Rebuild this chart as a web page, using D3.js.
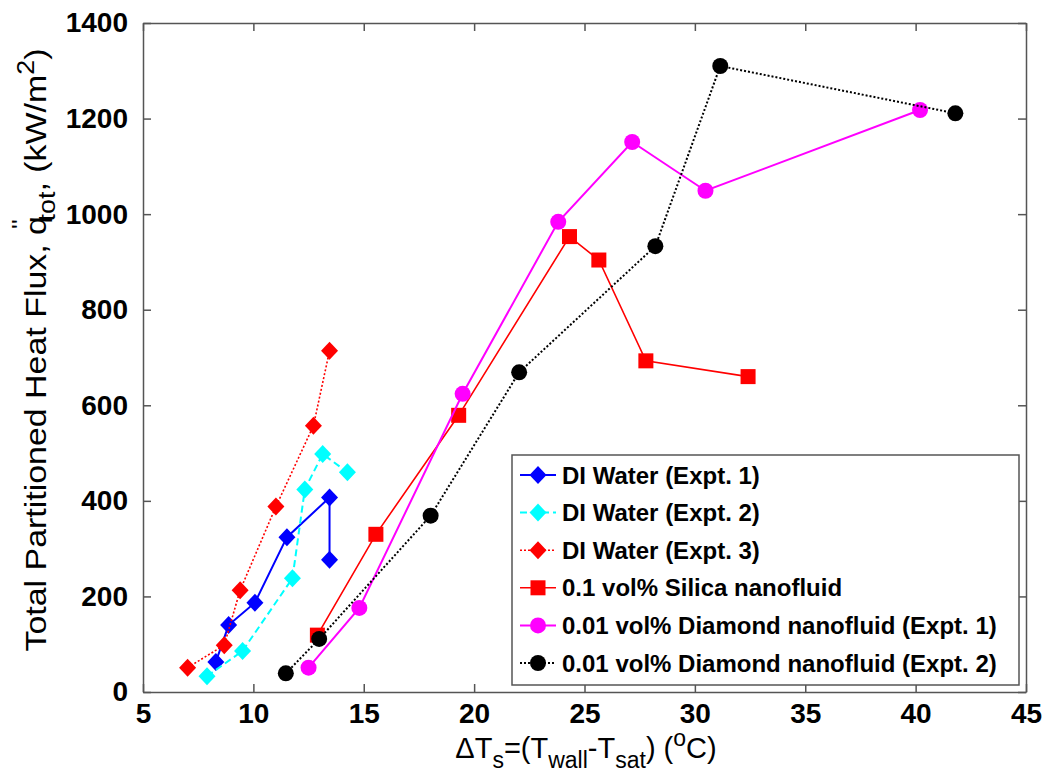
<!DOCTYPE html>
<html>
<meta charset="utf-8">
<style>
  body { margin: 0; padding: 0; background: #fff; }
  svg { display: block; }
  .tick text { font-family: "Liberation Sans", Arial, sans-serif; font-weight: bold; font-size: 28px; fill: #000; }
  .axis path, .axis line { stroke: #555; stroke-width: 1.5px; }
  .title { font-family: "Liberation Sans", Arial, sans-serif; font-size: 29px; fill: #000; }
  .legend text { font-family: "Liberation Sans", Arial, sans-serif; font-weight: bold; font-size: 24px; fill: #000; }
</style>
<body>
<svg id="chart" width="1044" height="778"></svg>
<script src="https://cdn.jsdelivr.net/npm/d3@7"></script>
<script>
// series data (dT in C, q in kW/m2)
var diWater1X = [8.30, 8.88, 10.07, 11.52, 13.45, 13.45];
var diWater1Y = [63, 140, 187, 324, 407, 277];
var diWater2X = [7.90, 9.51, 11.77, 12.33, 13.14, 14.26];
var diWater2Y = [33, 86, 238, 424, 498, 460];
var diWater3X = [7.02, 8.68, 9.40, 11.02, 12.72, 13.45];
var diWater3Y = [51, 98, 213, 388, 557, 714];
var silicaX = [12.90, 15.55, 19.30, 24.32, 25.65, 27.78, 32.41];
var silicaY = [119, 330, 579, 953, 904, 693, 660];
var diamond1X = [12.50, 14.80, 19.48, 23.81, 27.16, 30.48, 40.20];
var diamond1Y = [51, 176, 624, 984, 1151, 1049, 1218];
var diamond2X = [11.47, 12.98, 18.03, 22.04, 28.21, 31.15, 41.80];
var diamond2Y = [39, 111, 369, 669, 933, 1310, 1211];

var seriesNames = ["DI Water (Expt. 1)", "DI Water (Expt. 2)", "DI Water (Expt. 3)",
  "0.1 vol% Silica nanofluid", "0.01 vol% Diamond nanofluid (Expt. 1)", "0.01 vol% Diamond nanofluid (Expt. 2)"];
var xTicks = [5, 10, 15, 20, 25, 30, 35, 40, 45];
var yTicks = [0, 200, 400, 600, 800, 1000, 1200, 1400];

function pts(xs, ys) { return xs.map(function(x, i) { return {x: x, y: ys[i]}; }); }

var series = [
  {name: seriesNames[0], values: pts(diWater1X, diWater1Y), color: "#0000ff", dash: null, width: 2, marker: "diamond"},
  {name: seriesNames[1], values: pts(diWater2X, diWater2Y), color: "#00ffff", dash: "7,4", width: 2, marker: "diamond"},
  {name: seriesNames[2], values: pts(diWater3X, diWater3Y), color: "#ff0000", dash: "2,2", width: 1.6, marker: "diamond"},
  {name: seriesNames[3], values: pts(silicaX, silicaY), color: "#ff0000", dash: null, width: 1.6, marker: "square"},
  {name: seriesNames[4], values: pts(diamond1X, diamond1Y), color: "#ff00ff", dash: null, width: 2, marker: "circle"},
  {name: seriesNames[5], values: pts(diamond2X, diamond2Y), color: "#000000", dash: "2,2", width: 2, marker: "circle"}
];

var svg = d3.select("#chart"),
    margin = {top: 23, right: 18, bottom: 86, left: 143},
    width = 1044 - margin.left - margin.right,
    height = 778 - margin.top - margin.bottom,
    g = svg.append("g").attr("transform", "translate(" + margin.left + "," + margin.top + ")");

var x = d3.scaleLinear().domain([5, 45]).range([0, width]);
var y = d3.scaleLinear().domain([0, 1400]).range([height, 0]);

// axes, ticks pointing inward on all four sides
g.append("g").attr("class", "axis").attr("transform", "translate(0," + height + ")")
  .call(d3.axisBottom(x).tickValues(xTicks).tickSizeInner(-8).tickSizeOuter(0).tickPadding(11));
g.append("g").attr("class", "axis")
  .call(d3.axisTop(x).tickValues(xTicks).tickSizeInner(-8).tickSizeOuter(0).tickFormat(""));
g.append("g").attr("class", "axis")
  .call(d3.axisLeft(y).tickValues(yTicks).tickFormat(d3.format("d")).tickSizeInner(-8).tickSizeOuter(0).tickPadding(15));
g.append("g").attr("class", "axis").attr("transform", "translate(" + width + ",0)")
  .call(d3.axisRight(y).tickValues(yTicks).tickSizeInner(-8).tickSizeOuter(0).tickFormat(""));

var line = d3.line().x(function(d) { return x(d.x); }).y(function(d) { return y(d.y); });

function drawMarker(sel, type, color) {
  if (type === "diamond") {
    sel.append("path").attr("d", "M0,-9L8.5,0L0,9L-8.5,0Z").attr("fill", color);
  } else if (type === "square") {
    sel.append("rect").attr("x", -7.5).attr("y", -7.5).attr("width", 15).attr("height", 15).attr("fill", color);
  } else {
    sel.append("circle").attr("r", 8).attr("fill", color);
  }
}

var s = g.selectAll(".series").data(series).enter().append("g").attr("class", "series");
s.append("path")
  .attr("d", function(d) { return line(d.values); })
  .attr("fill", "none")
  .attr("stroke", function(d) { return d.color; })
  .attr("stroke-width", function(d) { return d.width; })
  .attr("stroke-dasharray", function(d) { return d.dash; });
s.each(function(d) {
  d3.select(this).selectAll(".pt").data(d.values).enter().append("g")
    .attr("transform", function(p) { return "translate(" + x(p.x) + "," + y(p.y) + ")"; })
    .each(function() { drawMarker(d3.select(this), d.marker, d.color); });
});

// legend
var lg = svg.append("g").attr("class", "legend").attr("transform", "translate(512,455)");
lg.append("rect").attr("width", 507).attr("height", 230)
  .attr("fill", "#fff").attr("stroke", "#555").attr("stroke-width", 1.5);
var item = lg.selectAll(".item").data(series).enter().append("g")
  .attr("transform", function(d, i) { return "translate(0," + (20 + i * 37.6) + ")"; });
item.append("line").attr("x1", 8).attr("x2", 44).attr("y1", 0).attr("y2", 0)
  .attr("stroke", function(d) { return d.color; })
  .attr("stroke-width", function(d) { return d.width; })
  .attr("stroke-dasharray", function(d) { return d.dash; });
item.each(function(d) {
  var m = d3.select(this).append("g").attr("transform", "translate(26,0)");
  drawMarker(m, d.marker, d.color);
});
item.append("text").attr("x", 50).attr("dy", "0.36em").text(function(d) { return d.name; });

// x title
var xt = svg.append("text").attr("class", "title").attr("x", 586).attr("y", 758).attr("text-anchor", "middle");
xt.append("tspan").text("\u0394T");
xt.append("tspan").attr("dy", 10).attr("font-size", 23).text("s");
xt.append("tspan").attr("dy", -10).text("=(T");
xt.append("tspan").attr("dy", 10).attr("font-size", 23).text("wall");
xt.append("tspan").attr("dy", -10).text("-T");
xt.append("tspan").attr("dy", 10).attr("font-size", 23).text("sat");
xt.append("tspan").attr("dy", -10).text(") (");
xt.append("tspan").attr("dy", -12).attr("font-size", 23).text("o");
xt.append("tspan").attr("dy", 12).text("C)");

// y title, stretched along its length like the original
var yt = svg.append("text").attr("class", "title")
  .attr("transform", "translate(46,350) rotate(-90) scale(1.17,1)").attr("text-anchor", "middle");
yt.append("tspan").text("Total Partitioned Heat Flux, q");
yt.append("tspan").attr("dy", -19).attr("dx", -11).attr("font-size", 22).text("''");
yt.append("tspan").attr("dy", 28).attr("dx", -2).attr("font-size", 23).text("tot");
yt.append("tspan").attr("dy", -9).text(", (kW/m");
yt.append("tspan").attr("dy", -12).attr("font-size", 23).text("2");
yt.append("tspan").attr("dy", 12).text(")");
</script>
</body>
</html>
